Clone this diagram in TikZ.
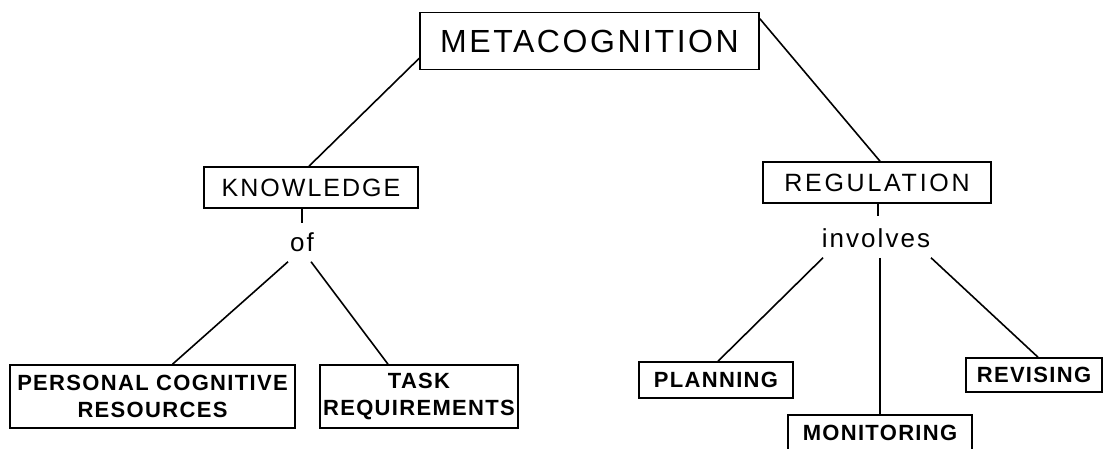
\documentclass[tikz,border=0pt]{standalone}
\usepackage{fontspec}
\setmainfont{Liberation Sans}
\newfontfamily\spaced[LetterSpace=8]{Liberation Sans}
\newfontfamily\spacedwide[LetterSpace=11]{Liberation Sans}
\newfontfamily\spacedbold[LetterSpace=6]{Liberation Sans Bold}
\usetikzlibrary{calc}
\begin{document}
\begin{tikzpicture}[x=1pt,y=-1pt,
  box/.style={draw, line width=1.6pt, inner sep=0pt, align=center},
  topbox/.style={box, font=\spaced\fontsize{32}{34}\selectfont},
  midbox/.style={box, font=\spaced\fontsize{25}{28}\selectfont},
  lowbox/.style={box, font=\spacedbold\fontsize{22}{27}\selectfont},
  word/.style={inner sep=0pt, font=\spaced\fontsize{26}{28}\selectfont},
  link/.style={line width=1.6pt}]
\useasboundingbox (0,0) rectangle (1108,448);
\node[topbox, minimum width=339pt, minimum height=57pt] (meta) at (589.5,41) {METACOGNITION};
\node[midbox, minimum width=214pt, minimum height=41pt] (know) at (311,187.5) {KNOWLEDGE};
\node[midbox, minimum width=228pt, minimum height=41pt, font=\spacedwide\fontsize{25}{28}\selectfont] (reg) at (877,182.5) {REGULATION};
\node[word] (of) at (302,242) {of};
\node[word] (inv) at (876,238) {involves};
\node[lowbox, minimum width=285pt, minimum height=63pt] (pers) at (152.5,396.5) {PERSONAL COGNITIVE\\RESOURCES};
\node[lowbox, minimum width=198pt, minimum height=63pt] (task) at (419,396.5) {TASK\\REQUIREMENTS};
\node[lowbox, minimum width=154pt, minimum height=36pt] (plan) at (716,380) {PLANNING};
\node[lowbox, minimum width=184pt, minimum height=36pt] (mon) at (880,433) {MONITORING};
\node[lowbox, minimum width=136pt, minimum height=34pt] (rev) at (1034,375) {REVISING};
% connectors
\draw[link] ([yshift=12pt]meta.south west) -- ([xshift=-2pt]know.north);
\draw[link] ([yshift=-7pt]meta.north east) -- ([xshift=3pt]reg.north);
\draw[link] ([xshift=-9pt]know.south) -- ++(0,14);
\draw[link] ([xshift=1pt]reg.south) -- ++(0,12);
\draw[link] ([xshift=-14pt,yshift=-10pt]of.south) -- ([xshift=20pt]pers.north);
\draw[link] ([xshift=9pt,yshift=-10pt]of.south) -- ([xshift=-31pt]task.north);
\draw[link] ([xshift=-53pt,yshift=-10pt]inv.south) -- ([xshift=2pt]plan.north);
\draw[link] ([xshift=4pt,yshift=-10pt]inv.south) -- (mon.north);
\draw[link] ([xshift=55pt,yshift=-10pt]inv.south) -- ([xshift=4pt]rev.north);
\end{tikzpicture}
\end{document}
